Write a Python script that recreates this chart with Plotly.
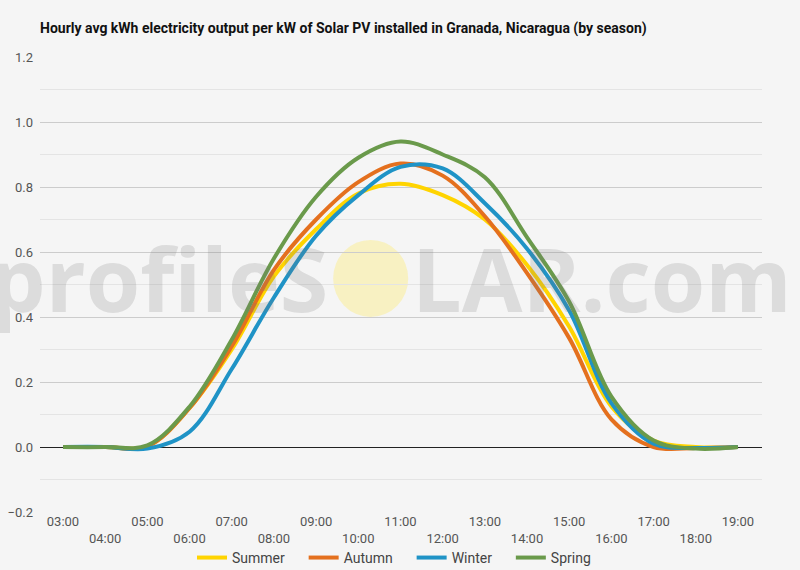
import plotly.graph_objects as go

hours = list(range(3, 20))
tick_labels = ["03:00", "04:00", "05:00", "06:00", "07:00", "08:00", "09:00", "10:00", "11:00",
               "12:00", "13:00", "14:00", "15:00", "16:00", "17:00", "18:00", "19:00"]

summer = [0, 0, 0.002, 0.12, 0.30, 0.525, 0.67, 0.78, 0.81, 0.775, 0.70, 0.56, 0.37, 0.125, 0.02, 0, 0]
autumn = [0, 0, 0.002, 0.12, 0.31, 0.545, 0.70, 0.815, 0.872, 0.835, 0.71, 0.535, 0.335, 0.085, 0.0, -0.003, 0]
winter = [0, 0, -0.005, 0.047, 0.24, 0.46, 0.65, 0.775, 0.862, 0.857, 0.75, 0.61, 0.42, 0.135, 0.01, -0.003, 0]
spring = [0, 0, 0.005, 0.124, 0.33, 0.58, 0.77, 0.89, 0.94, 0.90, 0.83, 0.645, 0.447, 0.155, 0.02, -0.005, 0]

series = [("Summer", summer, "#FFD400"),
          ("Autumn", autumn, "#E4701E"),
          ("Winter", winter, "#1F93C6"),
          ("Spring", spring, "#6A9A4B")]

ticktext = [t if i % 2 == 0 else "<br>" + t for i, t in enumerate(tick_labels)]

fig = go.Figure()
for name, vals, col in series:
    fig.add_trace(go.Scatter(x=hours, y=vals, name=name + "    ", mode="lines",
                             line=dict(color=col, width=4, shape="spline", smoothing=1.0)))

fig.update_layout(
    width=800, height=570,
    paper_bgcolor="#F5F5F5", plot_bgcolor="#F5F5F5",
    margin=dict(l=40, r=38, t=57, b=58, autoexpand=False),
    font=dict(family="Roboto", size=13, color="#555555"),
    title=dict(text="<b>Hourly avg kWh electricity output per kW of Solar PV installed in Granada, Nicaragua (by season)</b>",
               x=40 / 800, xanchor="left", y=1 - 28 / 570, yanchor="middle",
               font=dict(family="Roboto", size=14, color="#111111")),
    showlegend=True,
    legend=dict(orientation="h", x=0.5, xanchor="center", y=-0.101, yanchor="middle",
                font=dict(size=14, color="#444444"), bgcolor="rgba(0,0,0,0)",
                itemwidth=30, tracegroupgap=0),
    xaxis=dict(range=[2.455, 19.57], tickmode="array", tickvals=hours, ticktext=ticktext,
               showgrid=False, zeroline=False, showline=False, ticks="",
               tickfont=dict(size=13, color="#555555")),
    yaxis=dict(range=[-0.2, 1.2], dtick=0.2, tick0=0, tickformat=".1f",
               showgrid=True, gridcolor="#CCCCCC", gridwidth=1,
               zeroline=True, zerolinecolor="#222222", zerolinewidth=1.2,
               showline=False, ticks="", ticklabelstandoff=6,
               minor=dict(dtick=0.1, showgrid=True, gridcolor="#E4E4E4", gridwidth=1),
               tickfont=dict(size=13, color="#555555")),
)

# watermark
wm_color = "rgba(120,120,120,0.2)"
fig.add_annotation(text="<b>profileS</b>", xref="paper", yref="paper", x=0.4017, y=0.514,
                   xanchor="right", yanchor="middle", showarrow=False,
                   font=dict(family="Open Sans", size=88, color=wm_color))
fig.add_annotation(text="<b>LAR.com</b>", xref="paper", yref="paper", x=0.5125, y=0.514,
                   xanchor="left", yanchor="middle", showarrow=False,
                   font=dict(family="Open Sans", size=88, color=wm_color))
fig.add_shape(type="circle", xref="paper", yref="paper", x0=0.406, x1=0.510, y0=0.4286, y1=0.598,
              line=dict(width=0), fillcolor="rgba(250,238,160,0.6)", layer="below")

fig.write_html("out.html", config={"displayModeBar": False},
               post_script="document.body.style.margin='0';")
